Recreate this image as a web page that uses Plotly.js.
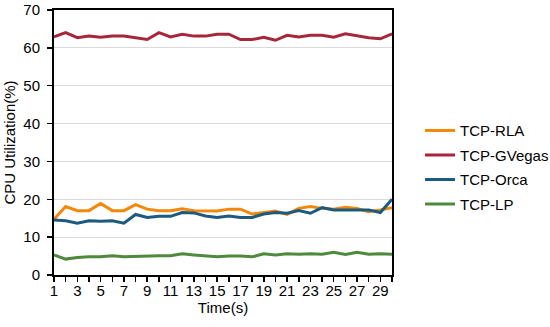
<!DOCTYPE html>
<html>
<head>
<meta charset="utf-8">
<script src="https://cdn.plot.ly/plotly-3.0.1.min.js"></script>
<style>html,body{margin:0;padding:0;background:#fff;}#chart{width:550px;height:327px;}</style>
</head>
<body>
<div id="chart"></div>
<script>
const time = [1,2,3,4,5,6,7,8,9,10,11,12,13,14,15,16,17,18,19,20,21,22,23,24,25,26,27,28,29,30];
const tcpRLA = [14.7,18.1,17.0,17.0,18.9,17.0,17.0,18.6,17.4,17.0,17.0,17.5,17.0,17.0,16.9,17.4,17.4,16.1,16.5,16.9,16.0,17.6,18.1,17.6,17.4,17.9,17.6,16.7,17.2,17.8];
const tcpGVegas = [62.9,64.0,62.7,63.1,62.8,63.1,63.1,62.7,62.2,64.0,62.9,63.6,63.1,63.1,63.6,63.6,62.2,62.2,62.8,62.0,63.3,62.9,63.3,63.3,62.8,63.7,63.1,62.7,62.4,63.7];
const tcpOrca = [14.5,14.3,13.7,14.3,14.2,14.3,13.7,16.0,15.2,15.5,15.5,16.5,16.4,15.6,15.2,15.6,15.2,15.2,16.1,16.5,16.3,17.0,16.3,17.8,17.2,17.2,17.2,17.2,16.5,20.0];
const tcpLP = [5.3,4.2,4.6,4.8,4.8,5.1,4.8,4.9,5.1,5.1,5.1,5.6,5.3,5.0,4.8,5.0,5.0,4.8,5.6,5.3,5.6,5.5,5.6,5.5,6.0,5.4,6.0,5.5,5.6,5.5];
const xTickLabels = [1,3,5,7,9,11,13,15,17,19,21,23,25,27,29];
const yTickLabels = [0,10,20,30,40,50,60,70];

const names = ['TCP-RLA','TCP-GVegas','TCP-Orca','TCP-LP'];
const series = [tcpRLA, tcpGVegas, tcpOrca, tcpLP];
const colors = ['#F5870A','#A6263A','#1D5A80','#4E8A3E'];

const traces = series.map((s,i)=>({
  x: time, y: s, name: names[i], type:'scatter', mode:'lines',
  line:{color:colors[i], width:3}, legendgroup:'g'+i
}));

const layout = {
  width:550, height:327,
  margin:{l:54, r:158, t:10, b:52, autoexpand:false},
  paper_bgcolor:'#fff', plot_bgcolor:'#fff',
  font:{family:'Liberation Sans, Arial, sans-serif', color:'#000', size:14},
  showlegend:true,
  legend:{x:1.083, xanchor:'left', y:0.607, yanchor:'top', traceorder:'grouped', tracegroupgap:2,
    font:{size:15, color:'#000'}, bgcolor:'rgba(0,0,0,0)'},
  xaxis:{range:[1,30], tickvals:xTickLabels, ticktext:xTickLabels.map(String),
    ticks:'outside', ticklen:5, tickcolor:'#000', tickwidth:1.5, ticklabelstandoff:-4,
    minor:{dtick:1, tick0:0, ticks:'outside', ticklen:5, tickcolor:'#000', tickwidth:1.5, showgrid:false},
    showline:true, linecolor:'#000', linewidth:2, mirror:true, showgrid:false, zeroline:false,
    tickfont:{size:15}, title:{text:'Time(s)', font:{size:15}, standoff:2}},
  yaxis:{range:[0,70], tickvals:yTickLabels, ticks:'outside', ticklen:5, tickcolor:'#000', tickwidth:1.5,
    ticklabelstandoff:4,
    showline:true, linecolor:'#000', linewidth:2, mirror:true,
    showgrid:true, gridcolor:'#d9d9d9', gridwidth:1, zeroline:false,
    tickfont:{size:15}, title:{text:'CPU Utilization(%)', font:{size:15}, standoff:4}}
};

Plotly.newPlot('chart', traces, layout, {displayModeBar:false, staticPlot:true});
</script>
</body>
</html>
